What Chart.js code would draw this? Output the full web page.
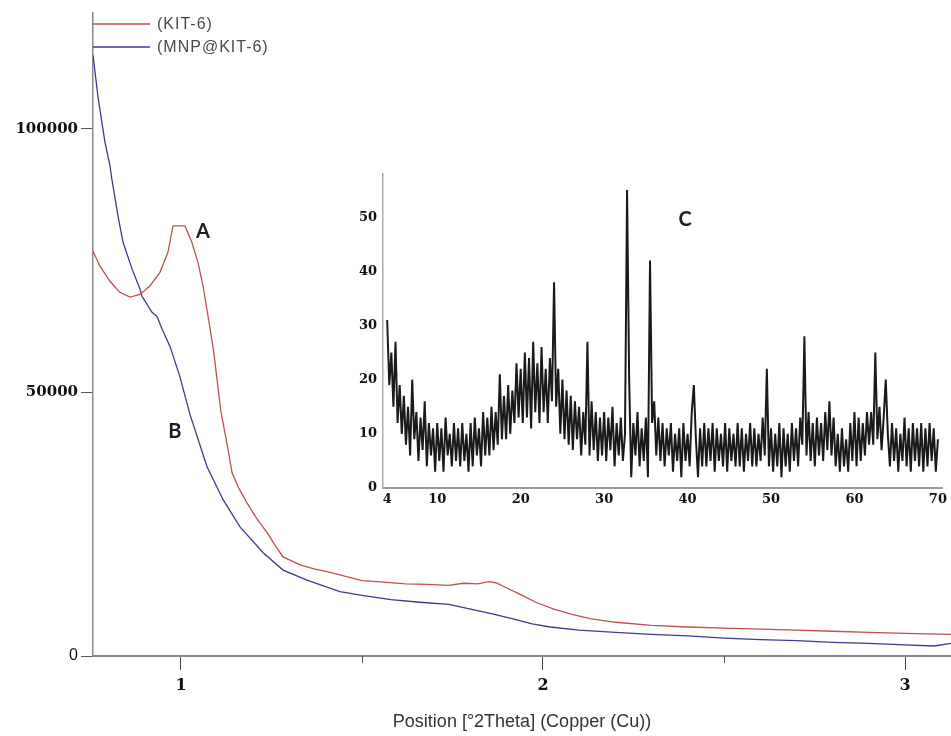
<!DOCTYPE html>
<html>
<head>
<meta charset="utf-8">
<script src="https://cdn.jsdelivr.net/npm/chart.js@4"></script>
<style>
  html, body { margin: 0; padding: 0; background: #fff; }
  #wrap { position: relative; width: 951px; height: 736px; }
  #main { position: absolute; left: 0; top: 0; }
  #inset { position: absolute; left: 330px; top: 160px; }
</style>
</head>
<body>
<div id="wrap">
  <canvas id="main" width="951" height="736"></canvas>
  <canvas id="inset" width="621" height="350"></canvas>
</div>
<script>
// main pattern, low angle (°2Theta vs counts)
const kitTheta = [0.757, 0.776, 0.804, 0.831, 0.859, 0.887, 0.914, 0.942, 0.964, 0.978, 1.011, 1.03, 1.047, 1.061, 1.075, 1.09, 1.11, 1.13, 1.141, 1.16, 1.182, 1.21, 1.238, 1.26, 1.282, 1.31, 1.329, 1.37, 1.403, 1.439, 1.5, 1.56, 1.62, 1.68, 1.74, 1.78, 1.82, 1.85, 1.87, 1.9, 1.94, 1.98, 2.03, 2.08, 2.13, 2.2, 2.3, 2.4, 2.5, 2.6, 2.7, 2.8, 2.9, 3.0, 3.127];
const kitCounts = [76800, 74000, 71100, 69000, 68100, 68600, 70200, 72800, 76600, 81600, 81600, 78500, 74700, 70200, 64400, 58000, 46500, 39200, 34800, 31800, 29100, 26000, 23400, 21000, 18800, 17900, 17300, 16500, 16000, 15400, 14300, 14000, 13700, 13600, 13400, 13800, 13700, 14100, 13900, 12900, 11600, 10200, 8900, 7900, 7100, 6400, 5800, 5500, 5300, 5100, 4900, 4700, 4500, 4300, 4100];

const mnpTheta = [0.757, 0.771, 0.79, 0.804, 0.809, 0.826, 0.84, 0.865, 0.887, 0.892, 0.92, 0.934, 0.948, 0.97, 0.997, 1.025, 1.072, 1.116, 1.163, 1.227, 1.282, 1.348, 1.439, 1.5, 1.58, 1.66, 1.74, 1.8, 1.86, 1.92, 1.97, 2.02, 2.1, 2.2, 2.3, 2.4, 2.5, 2.6, 2.7, 2.8, 2.9, 3.0, 3.08, 3.127];
const mnpCounts = [114000, 106000, 97500, 93000, 90500, 83500, 78500, 73400, 69600, 68300, 65200, 64400, 62000, 58700, 53000, 45800, 35900, 29700, 24500, 19600, 16300, 14400, 12200, 11500, 10700, 10200, 9800, 8900, 8000, 7000, 6100, 5500, 4900, 4500, 4100, 3800, 3400, 3100, 2900, 2600, 2400, 2100, 1900, 2400];

const seriesNames = ["(KIT-6)", "(MNP@KIT-6)"];
const mainYTicks = [0, 50000, 100000];

// inset: wide angle pattern, 4-70 °2Theta every 0.25°
const insetStart = 4;
const insetStep = 0.25;
const insetCounts = [
  31, 19, 25, 15, 27, 12, 19, 10,
  17, 8, 15, 6, 20, 9, 14, 5,
  13, 7, 16, 4, 12, 6, 11, 3,
  12, 5, 11, 3, 13, 6, 10, 4,
  12, 5, 11, 4, 12, 5, 10, 3,
  12, 4, 13, 6, 11, 4, 14, 6,
  13, 6, 15, 7, 14, 8, 21, 9,
  17, 9, 19, 10, 18, 12, 23, 13,
  22, 12, 25, 13, 24, 11, 27, 14,
  23, 12, 26, 14, 22, 12, 24, 16,
  38, 15, 22, 10, 20, 9, 18, 8,
  17, 7, 16, 9, 15, 6, 14, 8,
  27, 6, 16, 7, 14, 5, 13, 6,
  14, 5, 13, 7, 15, 4, 12, 6,
  13, 5, 10, 55, 20, 2, 12, 6,
  14, 4, 11, 5, 13, 2, 42, 12,
  16, 6, 13, 5, 12, 4, 11, 6,
  12, 3, 10, 5, 11, 2, 12, 5,
  10, 4, 14, 19, 9, 2, 11, 4,
  12, 4, 11, 5, 12, 3, 11, 5,
  10, 4, 12, 3, 11, 5, 10, 4,
  12, 4, 11, 3, 10, 5, 12, 4,
  11, 4, 10, 5, 13, 6, 22, 4,
  11, 3, 10, 4, 12, 2, 11, 4,
  10, 3, 12, 5, 11, 4, 13, 8,
  28, 6, 14, 5, 12, 4, 13, 6,
  12, 5, 14, 7, 16, 6, 13, 4,
  10, 3, 11, 4, 9, 3, 12, 5,
  14, 4, 13, 5, 12, 6, 14, 8,
  14, 8, 25, 9, 15, 7, 13, 20,
  10, 4, 12, 5, 11, 3, 10, 5,
  13, 4, 11, 3, 12, 5, 11, 4,
  12, 3, 11, 4, 12, 5, 11, 3,
  9
];
const insetXTicks = [4, 10, 20, 30, 40, 50, 60, 70];
const insetYTicks = [0, 10, 20, 30, 40, 50];

const toPoints = (xs, ys) => xs.map((v, i) => ({ x: v, y: ys[i] }));
const insetPoints = insetCounts.map((v, i) => ({ x: insetStart + i * insetStep, y: v }));

// A / B / C text labels
const textLabels = {
  id: "textLabels",
  afterDatasetsDraw(chart, args, opts) {
    const { ctx, scales } = chart;
    ctx.save();
    ctx.font = "bold 20px Lato";
    ctx.fillStyle = "#1e1e1e";
    ctx.textAlign = "center";
    ctx.textBaseline = "middle";
    opts.items.forEach(it => {
      ctx.fillText(it.text, scales.x.getPixelForValue(it.x), scales.y.getPixelForValue(it.y));
    });
    ctx.restore();
  }
};

// legend drawn as short lines from the y axis
const lineLegend = {
  id: "lineLegend",
  afterDraw(chart) {
    const { ctx, chartArea } = chart;
    ctx.save();
    ctx.font = "16px 'Liberation Sans'";
    ctx.letterSpacing = "1px";
    ctx.textBaseline = "middle";
    chart.data.datasets.forEach((ds, i) => {
      const yy = 24 + i * 23;
      ctx.strokeStyle = ds.borderColor;
      ctx.lineWidth = 1.3;
      ctx.beginPath();
      ctx.moveTo(chartArea.left, yy);
      ctx.lineTo(chartArea.left + 57, yy);
      ctx.stroke();
      ctx.fillStyle = "#4a4a4a";
      ctx.fillText(ds.label, chartArea.left + 64, yy + 1);
    });
    ctx.restore();
  }
};

// short ticks at the half steps
const minorTicks = {
  id: "minorTicks",
  afterDraw(chart) {
    const { ctx, scales: { x } } = chart;
    ctx.save();
    ctx.strokeStyle = "#555";
    ctx.lineWidth = 1;
    x.ticks.forEach(t => {
      if (Number.isInteger(t.value)) return;
      const px = Math.round(x.getPixelForValue(t.value)) + 0.5;
      ctx.beginPath();
      ctx.moveTo(px, x.top);
      ctx.lineTo(px, x.top + 7);
      ctx.stroke();
    });
    ctx.restore();
  }
};

const serifBold = { family: "'DejaVu Serif'", size: 15, weight: "bold" };
const plainSans = { family: "'Liberation Sans'", size: 16, weight: "normal" };

new Chart(document.getElementById("main"), {
  type: "line",
  data: {
    datasets: [
      {
        label: seriesNames[0],
        data: toPoints(kitTheta, kitCounts),
        borderColor: "#c0504f",
        borderWidth: 1.3,
        pointRadius: 0,
        tension: 0
      },
      {
        label: seriesNames[1],
        data: toPoints(mnpTheta, mnpCounts),
        borderColor: "#3b3b8f",
        borderWidth: 1.3,
        pointRadius: 0,
        tension: 0
      }
    ]
  },
  options: {
    responsive: false,
    animation: false,
    layout: { padding: { top: 13, right: 0, left: 0, bottom: 0 } },
    plugins: {
      legend: { display: false },
      tooltip: { enabled: false },
      textLabels: { items: [{ text: "A", x: 1.061, y: 80600 }, { text: "B", x: 0.983, y: 42600 }] }
    },
    scales: {
      x: {
        type: "linear",
        min: 0.757,
        max: 3.127,
        afterFit: s => { s.height = 80; },
        border: { display: true, color: "#8a8a8a", width: 2 },
        grid: { drawOnChartArea: false, tickLength: 14, tickColor: c => Number.isInteger(c.tick.value) ? "#444" : "rgba(0,0,0,0)" },
        ticks: {
          stepSize: 0.5,
          includeBounds: false,
          autoSkip: false,
          maxRotation: 0,
          padding: 6,
          color: "#111",
          font: { family: "'DejaVu Serif'", size: 16, weight: "bold" },
          callback: v => Number.isInteger(v) ? String(v) : ""
        },
        title: {
          display: true,
          text: "Position [°2Theta] (Copper (Cu))",
          color: "#333",
          font: { family: "'Liberation Sans'", size: 18 },
          padding: { top: 4, bottom: 3 }
        }
      },
      y: {
        min: 0,
        max: 122000,
        afterBuildTicks: s => { s.ticks = mainYTicks.map(v => ({ value: v })); },
        afterFit: s => { s.width = 93; },
        border: { display: true, color: "#8a8a8a", width: 1.5 },
        grid: { drawOnChartArea: false, tickLength: 12, tickColor: "#555" },
        ticks: {
          padding: 3,
          color: "#111",
          font: c => (c.tick && c.tick.value === 0) ? plainSans : serifBold,
          callback: v => String(v)
        }
      }
    }
  },
  plugins: [textLabels, lineLegend, minorTicks]
});

new Chart(document.getElementById("inset"), {
  type: "line",
  data: {
    datasets: [{
      data: insetPoints,
      borderColor: "#1a1a1a",
      borderWidth: 2,
      pointRadius: 0,
      tension: 0
    }]
  },
  options: {
    responsive: false,
    animation: false,
    layout: { padding: { top: 9, right: 6, left: 0, bottom: 0 } },
    plugins: {
      legend: { display: false },
      tooltip: { enabled: false },
      textLabels: { items: [{ text: "C", x: 39.7, y: 49.6 }] }
    },
    scales: {
      x: {
        type: "linear",
        min: 3.5,
        max: 70.6,
        afterBuildTicks: s => { s.ticks = insetXTicks.map(v => ({ value: v })); },
        afterFit: s => { s.height = 22; },
        border: { display: true, color: "#9a9a9a", width: 2 },
        grid: { display: false, drawTicks: false },
        ticks: {
          autoSkip: false,
          maxRotation: 0,
          padding: 4,
          color: "#111",
          font: { family: "'DejaVu Serif'", size: 13, weight: "bold" }
        }
      },
      y: {
        min: 0,
        max: 58,
        afterBuildTicks: s => { s.ticks = insetYTicks.map(v => ({ value: v })); },
        afterFit: s => { s.width = 53; },
        border: { display: true, color: "#aaa", width: 1.5 },
        grid: { display: false, drawTicks: false },
        ticks: {
          padding: 6,
          color: "#111",
          font: { family: "'DejaVu Serif'", size: 13, weight: "bold" }
        }
      }
    }
  },
  plugins: [textLabels]
});
</script>
</body>
</html>
